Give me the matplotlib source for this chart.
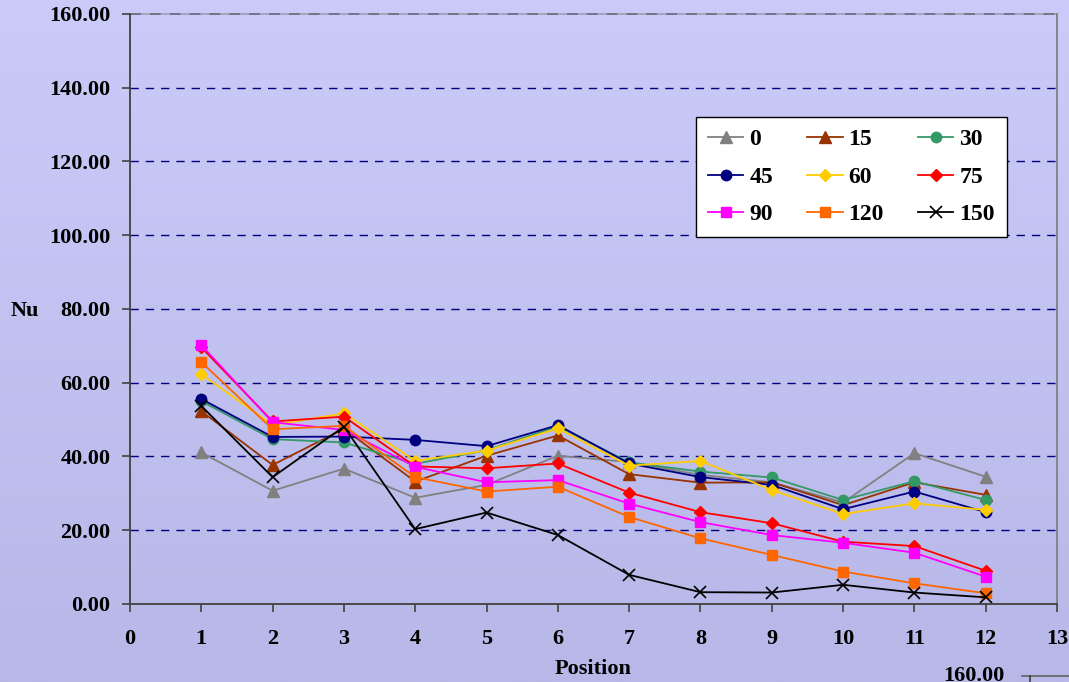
"""Nu versus position for several inclination angles."""
import matplotlib
matplotlib.use("Agg")
import matplotlib.pyplot as plt
import numpy as np
from matplotlib.lines import Line2D

positions = [1, 2, 3, 4, 5, 6, 7, 8, 9, 10, 11, 12]

nu_0 = [41.1, 30.7, 36.7, 28.8, 32.3, 40.2, 38.5, 35.0, 33.0, 27.5, 40.9, 34.5]
nu_15 = [52.3, 37.7, 47.5, 33.2, 40.2, 45.7, 35.2, 32.9, 33.0, 26.8, 33.0, 29.6]
nu_30 = [55.0, 44.7, 43.8, 38.0, 41.7, 48.2, 38.4, 35.9, 34.3, 28.2, 33.3, 28.2]
nu_45 = [55.6, 45.3, 45.4, 44.5, 42.8, 48.5, 38.1, 34.4, 32.3, 25.7, 30.5, 24.9]
nu_60 = [62.3, 48.5, 51.7, 38.8, 41.6, 47.6, 37.5, 38.8, 30.9, 24.4, 27.3, 25.5]
nu_75 = [69.6, 49.5, 50.8, 37.3, 36.8, 38.1, 30.2, 24.9, 21.9, 16.9, 15.7, 9.0]
nu_90 = [70.2, 49.3, 47.2, 37.2, 33.0, 33.6, 27.2, 22.2, 18.7, 16.6, 13.9, 7.4]
nu_120 = [65.6, 47.4, 48.3, 34.4, 30.5, 31.8, 23.6, 17.8, 13.3, 8.8, 5.6, 2.9]
nu_150 = [53.7, 34.4, 48.1, 20.3, 24.8, 18.7, 7.9, 3.2, 3.1, 5.2, 3.1, 1.8]

angle_labels = ["0", "15", "30", "45", "60", "75", "90", "120", "150"]
series = [nu_0, nu_15, nu_30, nu_45, nu_60, nu_75, nu_90, nu_120, nu_150]

styles = [
    ("#808080", "^", 9),
    ("#993300", "^", 9),
    ("#339966", "o", 7.5),
    ("#000080", "o", 7.5),
    ("#FFCC00", "D", 6.5),
    ("#FF0000", "D", 6.5),
    ("#FF00FF", "s", 7),
    ("#FF6600", "s", 7),
    ("#000000", "x", 8),
]

plt.rcParams["font.family"] = ["Liberation Serif", "DejaVu Serif"]
plt.rcParams["font.weight"] = "bold"
FS = 16

fig = plt.figure(figsize=(10.69, 6.82), dpi=100)

# lavender gradient behind everything
bg = fig.add_axes([0, 0, 1, 1], zorder=-10)
top = np.array([203, 203, 250]) / 255
bottom = np.array([184, 184, 232]) / 255
t = np.linspace(0, 1, 256)[:, None]
grad = (top[None, :] * (1 - t) + bottom[None, :] * t)[:, None, :]
bg.imshow(grad, aspect="auto", extent=[0, 1, 0, 1], origin="upper")
bg.set_axis_off()

ax = fig.add_axes([0.1216, 0.1144, 0.8672, 0.8651])
ax.set_facecolor("none")

handles = []
for vals, lab, (color, marker, ms) in zip(series, angle_labels, styles):
    kw = dict(color=color, linewidth=1.3, marker=marker, markersize=ms, label=lab)
    if marker == "x":
        kw["markeredgewidth"] = 1.2
    line, = ax.plot(positions, vals, **kw)
    handles.append(line)

ax.set_xlim(0, 13)
ax.set_ylim(0, 160)
ax.set_xticks(range(0, 14))
ax.set_yticks(np.arange(0, 161, 20))
ax.yaxis.set_major_formatter(matplotlib.ticker.FormatStrFormatter("%.2f"))

for y in np.arange(20, 141, 20):
    ax.axhline(y, color="#000080", linestyle=(0, (6, 5)), linewidth=1.0, zorder=0)
# top border: grey with darker dashes
ax.axhline(160, color="#a0a0c0", linewidth=1.3, zorder=0, clip_on=False)
ax.axhline(160, color="#707080", linestyle=(0, (6, 5)), linewidth=1.3,
           zorder=0, clip_on=False)

ax.spines["top"].set_visible(False)
ax.spines["left"].set_color("#404040")
ax.spines["bottom"].set_color("#404040")
ax.spines["right"].set_color("#808080")
for s in ("left", "bottom", "right"):
    ax.spines[s].set_linewidth(1.3)

ax.tick_params(axis="both", direction="out", length=6, width=1.2,
               color="#404040", labelsize=FS)
ax.tick_params(axis="y", pad=8)
ax.tick_params(axis="x", pad=12)
for lbl in ax.get_xticklabels() + ax.get_yticklabels():
    lbl.set_fontweight("bold")

ax.set_xlabel("Position", fontsize=FS, fontweight="bold", labelpad=7)
fig.text(11 / 1069, 1 - 311 / 682, "Nu", fontsize=FS, fontweight="bold",
         ha="left", va="center")

# legend filled row by row: 0 15 30 / 45 60 75 / 90 120 150
order = [0, 3, 6, 1, 4, 7, 2, 5, 8]
leg = ax.legend([handles[i] for i in order], [angle_labels[i] for i in order],
                ncol=3, loc="upper left", bbox_to_anchor=(0.6106, 0.8254),
                borderaxespad=0, frameon=True, fancybox=False,
                handlelength=1.5, columnspacing=1.45, labelspacing=0.68,
                borderpad=0.5, handletextpad=0.25,
                prop={"weight": "bold", "size": 17})
leg.get_frame().set_edgecolor("black")
leg.get_frame().set_linewidth(1.0)
leg.get_frame().set_facecolor("white")
leg.get_frame().set_alpha(1.0)

# edge of the neighbouring chart peeking in at the bottom
fig.text(943 / 1069, 1 - 666 / 682, "160.00", fontsize=FS, fontweight="bold",
         ha="left", va="top")
fig.add_artist(Line2D([1022 / 1069, 1], [1 - 676 / 682, 1 - 676 / 682],
                      color="#606060", linewidth=1.2))
fig.add_artist(Line2D([1030 / 1069, 1030 / 1069], [0, 1 - 676 / 682],
                      color="#404040", linewidth=1.2))

fig.savefig("out.png", dpi=100)
